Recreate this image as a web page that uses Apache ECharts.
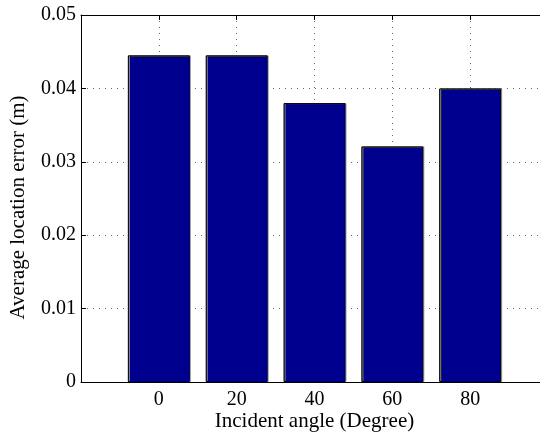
<!DOCTYPE html>
<html>
<head>
<meta charset="utf-8">
<title>Average location error</title>
<script src="https://cdn.jsdelivr.net/npm/echarts@6/dist/echarts.min.js"></script>
<style>
  html, body { margin: 0; padding: 0; background: #fff; }
  #chart { width: 540px; height: 432px; }
</style>
</head>
<body>
<div id="chart"></div>
<script>
// data
var angles = [0, 20, 40, 60, 80];
var errors = [0.0445, 0.0445, 0.0380, 0.0321, 0.0400];
var xTickLabels = [0, 20, 40, 60, 80];

var font = 'Liberation Serif';
var myChart = echarts.init(document.getElementById('chart'));

var barData = angles.map(function (a, i) { return [a, errors[i]]; });

var dotted = { color: '#666', width: 1, type: [1, 5] };

option = {
  animation: false,
  grid: { left: 81, top: 15, bottom: 50, right: -8, outerBoundsMode: 'none', containLabel: false },
  xAxis: [
    {
      type: 'value',
      min: -20, max: 100, interval: 20,
      name: 'Incident angle (Degree)',
      nameLocation: 'middle',
      nameGap: 29,
      nameMoveOverlap: false,
      nameTextStyle: { fontFamily: font, fontSize: 21, color: '#000', lineHeight: 21 },
      axisLine: { onZero: false, lineStyle: { color: '#000', width: 1 } },
      axisTick: { inside: true, length: 5, lineStyle: { color: '#000' } },
      axisLabel: {
        fontFamily: font, fontSize: 20, color: '#000', margin: 8,
        formatter: function (v) { return xTickLabels.indexOf(v) >= 0 ? String(v) : ''; }
      },
      splitLine: { show: true, lineStyle: dotted }
    },
    {
      type: 'value',
      position: 'top',
      min: -20, max: 100, interval: 20,
      axisLine: { onZero: false, lineStyle: { color: '#000', width: 1 } },
      axisTick: { inside: true, length: 5, lineStyle: { color: '#000' } },
      axisLabel: { show: false },
      splitLine: { show: false }
    }
  ],
  yAxis: {
    type: 'value',
    min: 0, max: 0.05, interval: 0.01,
    name: 'Average location error (m)',
    nameLocation: 'middle',
    nameGap: 52,
    nameTextStyle: { fontFamily: font, fontSize: 21, color: '#000', padding: [0, 18, 0, 0] },
    axisLine: { show: true, onZero: false, lineStyle: { color: '#000', width: 1 } },
    axisTick: { show: true, inside: true, length: 5, lineStyle: { color: '#000' } },
    axisLabel: {
      fontFamily: font, fontSize: 20, color: '#000', margin: 5,
      formatter: function (v) { return v === 0 ? '0' : v.toFixed(2); }
    },
    splitLine: { show: true, lineStyle: dotted }
  },
  series: [
    {
      type: 'bar',
      xAxisIndex: 0,
      barWidth: 62,
      data: barData,
      itemStyle: {
        color: '#00008f',
        borderColor: '#000',
        borderWidth: 1,
        shadowColor: '#999',
        shadowOffsetX: 1
      }
    }
  ]
};
myChart.setOption(option);
</script>
</body>
</html>
